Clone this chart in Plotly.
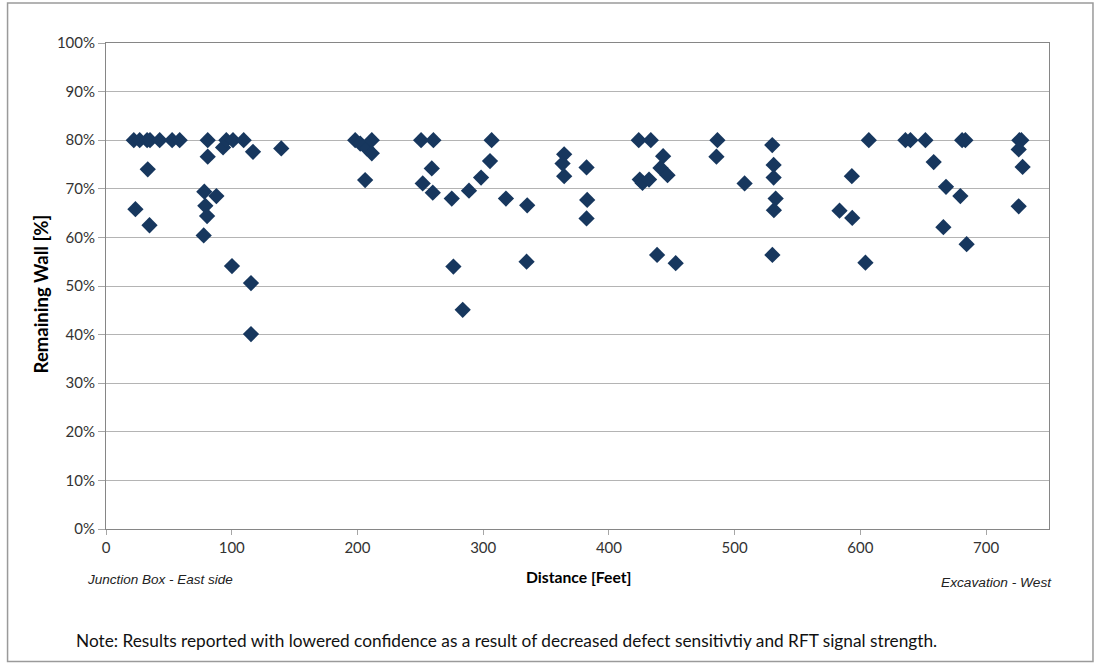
import plotly.graph_objects as go

distance_ft = [22.1, 26.8, 32.7, 35.0, 42.7, 52.6, 58.6, 33.2, 23.4, 34.6,
               80.9, 80.9, 93.1, 95.7, 101.0, 109.5, 116.9, 139.4, 78.2, 87.8,
               79.0, 80.4, 77.7, 100.2, 115.3, 115.3,
               198.2, 202.2, 207.5, 211.4, 211.4, 206.1,
               250.6, 260.4, 259.1, 251.9, 259.9, 275.0, 288.7, 298.3, 305.4, 306.7,
               318.1, 335.0, 276.3, 283.7, 334.5,
               364.4, 363.1, 364.4, 382.2, 382.7, 382.2,
               423.7, 433.3, 443.1, 441.0, 446.6, 424.5, 426.7, 431.9, 438.3, 453.1,
               486.3, 485.5, 507.9, 529.9, 531.0, 531.0, 532.6, 531.2, 530.0,
               593.2, 583.4, 593.5, 604.0, 606.7,
               635.8, 639.8, 651.7, 658.3, 668.1, 679.5, 666.0, 684.5, 680.9, 683.5,
               726.4, 728.0, 725.9, 729.0, 725.9]
remaining_wall = [80, 80, 80, 80, 80, 80, 80, 74.0, 65.8, 62.5,
                  80, 76.6, 78.5, 80, 80, 80, 77.6, 78.3, 69.4, 68.5,
                  66.5, 64.4, 60.4, 54.1, 50.6, 40.1,
                  80, 79.3, 78.3, 80, 77.3, 71.8,
                  80, 80, 74.2, 71.1, 69.2, 68.0, 69.6, 72.3, 75.7, 80,
                  68.0, 66.6, 54.0, 45.1, 55.0,
                  77.1, 75.2, 72.6, 74.4, 67.7, 63.9,
                  80, 80, 76.7, 74.3, 72.8, 71.9, 71.2, 71.9, 56.4, 54.7,
                  80, 76.6, 71.1, 79.0, 74.9, 72.3, 68.0, 65.6, 56.4,
                  72.6, 65.5, 64.0, 54.8, 80,
                  80, 80, 80, 75.5, 70.4, 68.5, 62.1, 58.6, 80, 80,
                  80, 80, 78.1, 74.5, 66.4]

x_ticks = [0, 100, 200, 300, 400, 500, 600, 700]
y_ticks = [0, 10, 20, 30, 40, 50, 60, 70, 80, 90, 100]

fig = go.Figure()
fig.add_trace(go.Scatter(
    x=distance_ft, y=remaining_wall, mode="markers",
    marker=dict(symbol="diamond", size=12.5, color="#17375E", line=dict(width=0)),
    showlegend=False, hoverinfo="x+y"))

tick_font = dict(family="Lato, Liberation Sans, sans-serif", size=15, color="#333333")

# paper-coordinate helpers (plot area: x 105.5..1049 px, y 43..529.3 px)
def px_x(px):
    return (px - 105.5) / (1049 - 105.5)

def px_y(py):
    return (529.3 - py) / (529.3 - 43)

fig.update_layout(
    width=1094, height=666,
    margin=dict(l=105.5, r=45, t=43, b=136.7, autoexpand=False),
    paper_bgcolor="white", plot_bgcolor="white",
    xaxis=dict(range=[0, 750], tickvals=x_ticks, ticktext=[str(v) for v in x_ticks],
               showgrid=False, zeroline=False, showline=True, linecolor="#868686",
               linewidth=1, mirror=True, ticks="outside", ticklen=5, tickcolor="#A6A6A6",
               tickfont=tick_font),
    yaxis=dict(range=[0, 100], tickvals=y_ticks, ticktext=[f"{v}%" for v in y_ticks],
               showgrid=True, gridcolor="#B4B4B4", gridwidth=1, zeroline=False,
               showline=True, linecolor="#868686", linewidth=1, mirror=True,
               ticks="outside", ticklen=7, tickcolor="#A6A6A6", tickfont=tick_font),
    annotations=[
        dict(text="<b>Distance [Feet]</b>", xref="paper", yref="paper",
             x=px_x(578), y=px_y(577), xanchor="center", yanchor="middle",
             showarrow=False,
             font=dict(family="Lato, Liberation Sans, sans-serif", size=15.7, color="#000000")),
        dict(text="<b>Remaining Wall [%]</b>", xref="paper", yref="paper",
             x=px_x(40), y=px_y(294), xanchor="center", yanchor="middle",
             textangle=-90, showarrow=False,
             font=dict(family="Lato, Liberation Sans, sans-serif", size=18.5, color="#000000")),
        dict(text="<i>Junction Box - East side</i>", xref="paper", yref="paper",
             x=px_x(84), y=px_y(580), xanchor="left", yanchor="middle", showarrow=False,
             font=dict(family="Liberation Sans, Arial", size=13.5, color="#222222")),
        dict(text="<i>Excavation - West</i>", xref="paper", yref="paper",
             x=px_x(1054), y=px_y(583), xanchor="right", yanchor="middle", showarrow=False,
             font=dict(family="Liberation Sans, Arial", size=13.7, color="#222222")),
        dict(text="Note: Results reported with lowered confidence as a result of decreased defect sensitivtiy and RFT signal strength.",
             xref="paper", yref="paper", x=px_x(73), y=px_y(641), xanchor="left", yanchor="middle",
             showarrow=False,
             font=dict(family="Lato, Open Sans, sans-serif", size=17.25, color="#111111")),
    ],
    shapes=[dict(type="rect", xref="paper", yref="paper",
                 x0=px_x(7), x1=px_x(1093), y0=px_y(662), y1=px_y(3),
                 line=dict(color="#9A9A9A", width=1.5), fillcolor="rgba(0,0,0,0)")],
)

fig.write_html("out.html", config={"displayModeBar": False},
               post_script="document.body.style.margin='0';")
